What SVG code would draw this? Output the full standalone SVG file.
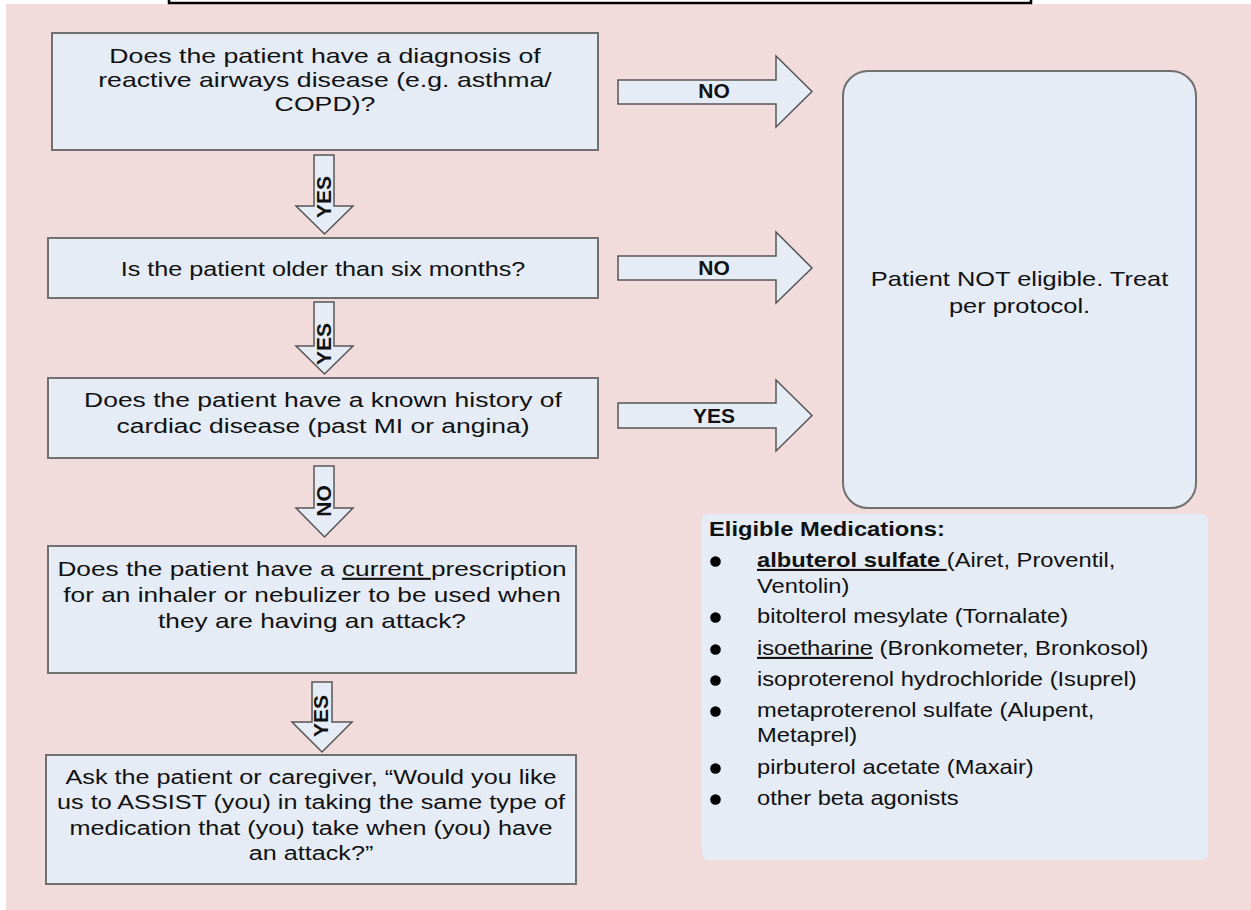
<svg xmlns="http://www.w3.org/2000/svg" width="1251" height="910" viewBox="0 0 1251 910">
<style>
.bg{fill:#F2DCDB}
.box{fill:#E5ECF6;stroke:#707070;stroke-width:2}
.arr{fill:#E5ECF6;stroke:#555;stroke-width:1.5;stroke-linejoin:miter}
.t{font-family:"Liberation Sans",Arial,sans-serif;font-size:21px;fill:#111;text-anchor:middle}
.p{font-family:"Liberation Sans",Arial,sans-serif;font-size:21px;fill:#111}
.lb{font-family:"Liberation Sans",Arial,sans-serif;font-size:21px;font-weight:bold;fill:#111;text-anchor:middle}
.u{text-decoration:underline}
.b{font-weight:bold}
</style>
<rect x="0" y="0" width="1251" height="910" fill="#ffffff"/>
<rect class="bg" x="6" y="4" width="1245" height="906"/>
<rect x="169" y="-6" width="862" height="9" fill="#ffffff" stroke="#000" stroke-width="2.5"/>

<g id="connectors">
  <path class="arr" d="M618,80 H776 V56 L812,91.5 L776,127 V104 H618 Z"/>
  <text class="lb" x="714" y="98">NO</text>
  <path class="arr" d="M618,256 H776 V232 L812,268 L776,303 V280 H618 Z"/>
  <text class="lb" x="714" y="275">NO</text>
  <path class="arr" d="M618,403 H776 V380 L812,415.5 L776,451 V428 H618 Z"/>
  <text class="lb" x="714" y="423">YES</text>
  <path class="arr" d="M314,155 H334 V206 H353 L324.5,234 L296,206 H314 Z"/>
  <text class="lb" transform="translate(331,197) rotate(-90)" x="0" y="0">YES</text>
  <path class="arr" d="M314,302 H334 V346 H353 L324.5,374 L296,346 H314 Z"/>
  <text class="lb" transform="translate(331,344) rotate(-90)" x="0" y="0">YES</text>
  <path class="arr" d="M314,466 H334 V508 H353 L324.5,537 L296,508 H314 Z"/>
  <text class="lb" transform="translate(331,501) rotate(-90)" x="0" y="0">NO</text>
  <path class="arr" d="M312,682 H332 V722 H352 L322,752 L292,722 H312 Z"/>
  <text class="lb" transform="translate(328,716) rotate(-90)" x="0" y="0">YES</text>
</g>

<g id="q1">
  <rect class="box" x="52" y="33" width="546" height="117"/>
  <text class="t" transform="translate(325,0) scale(1.27,1)" x="0" y="63">Does the patient have a diagnosis of</text>
  <text class="t" transform="translate(325,0) scale(1.27,1)" x="0" y="87">reactive airways disease (e.g. asthma/</text>
  <text class="t" transform="translate(325,0) scale(1.27,1)" x="0" y="111">COPD)?</text>
</g>
<g id="q2">
  <rect class="box" x="48" y="238" width="550" height="60"/>
  <text class="t" transform="translate(323,0) scale(1.2,1)" x="0" y="276">Is the patient older than six months?</text>
</g>
<g id="q3">
  <rect class="box" x="48" y="378" width="550" height="80"/>
  <text class="t" transform="translate(323,0) scale(1.26,1)" x="0" y="407">Does the patient have a known history of</text>
  <text class="t" transform="translate(323,0) scale(1.26,1)" x="0" y="433">cardiac disease (past MI or angina)</text>
</g>
<g id="q4">
  <rect class="box" x="48" y="546" width="528" height="127"/>
  <text class="t" transform="translate(312,0) scale(1.25,1)" x="0" y="576">Does the patient have a <tspan class="u">current </tspan>prescription</text>
  <text class="t" transform="translate(312,0) scale(1.25,1)" x="0" y="602">for an inhaler or nebulizer to be used when</text>
  <text class="t" transform="translate(312,0) scale(1.25,1)" x="0" y="628">they are having an attack?</text>
</g>
<g id="ask">
  <rect class="box" x="46" y="755" width="530" height="129"/>
  <text class="t" transform="translate(311,0) scale(1.2,1)" x="0" y="784">Ask the patient or caregiver, “Would you like</text>
  <text class="t" transform="translate(311,0) scale(1.2,1)" x="0" y="809.5">us to ASSIST (you) in taking the same type of</text>
  <text class="t" transform="translate(311,0) scale(1.2,1)" x="0" y="835">medication that (you) take when (you) have</text>
  <text class="t" transform="translate(311,0) scale(1.2,1)" x="0" y="860.5">an attack?”</text>
</g>
<g id="noteligible">
  <rect class="box" x="843" y="71" width="353" height="437" rx="25" ry="25"/>
  <text class="t" transform="translate(1019.5,0) scale(1.21,1)" x="0" y="286">Patient NOT eligible. Treat</text>
  <text class="t" transform="translate(1019.5,0) scale(1.21,1)" x="0" y="313">per protocol.</text>
</g>
<g id="medications">
  <rect x="702" y="514" width="506" height="346" rx="6" ry="6" fill="#E5ECF6"/>
  <text class="p b" transform="translate(709,0) scale(1.13,1)" x="0" y="536">Eligible Medications:</text>
  <g fill="#000">
    <circle cx="715.5" cy="561.5" r="5.3"/>
    <circle cx="715.5" cy="617.5" r="5.3"/>
    <circle cx="715.5" cy="649.5" r="5.3"/>
    <circle cx="715.5" cy="680.5" r="5.3"/>
    <circle cx="715.5" cy="711.5" r="5.3"/>
    <circle cx="715.5" cy="768.5" r="5.3"/>
    <circle cx="715.5" cy="799.5" r="5.3"/>
  </g>
  <text class="p" transform="translate(757,0) scale(1.13,1)" x="0" y="567"><tspan class="b u">albuterol sulfate </tspan>(Airet, Proventil,</text>
  <text class="p" transform="translate(757,0) scale(1.13,1)" x="0" y="593">Ventolin)</text>
  <text class="p" transform="translate(757,0) scale(1.13,1)" x="0" y="623">bitolterol mesylate (Tornalate)</text>
  <text class="p" transform="translate(757,0) scale(1.13,1)" x="0" y="655"><tspan class="u">isoetharine</tspan> (Bronkometer, Bronkosol)</text>
  <text class="p" transform="translate(757,0) scale(1.13,1)" x="0" y="686">isoproterenol hydrochloride (Isuprel)</text>
  <text class="p" transform="translate(757,0) scale(1.13,1)" x="0" y="717">metaproterenol sulfate (Alupent,</text>
  <text class="p" transform="translate(757,0) scale(1.13,1)" x="0" y="742">Metaprel)</text>
  <text class="p" transform="translate(757,0) scale(1.13,1)" x="0" y="774">pirbuterol acetate (Maxair)</text>
  <text class="p" transform="translate(757,0) scale(1.13,1)" x="0" y="805">other beta agonists</text>
</g>
</svg>
